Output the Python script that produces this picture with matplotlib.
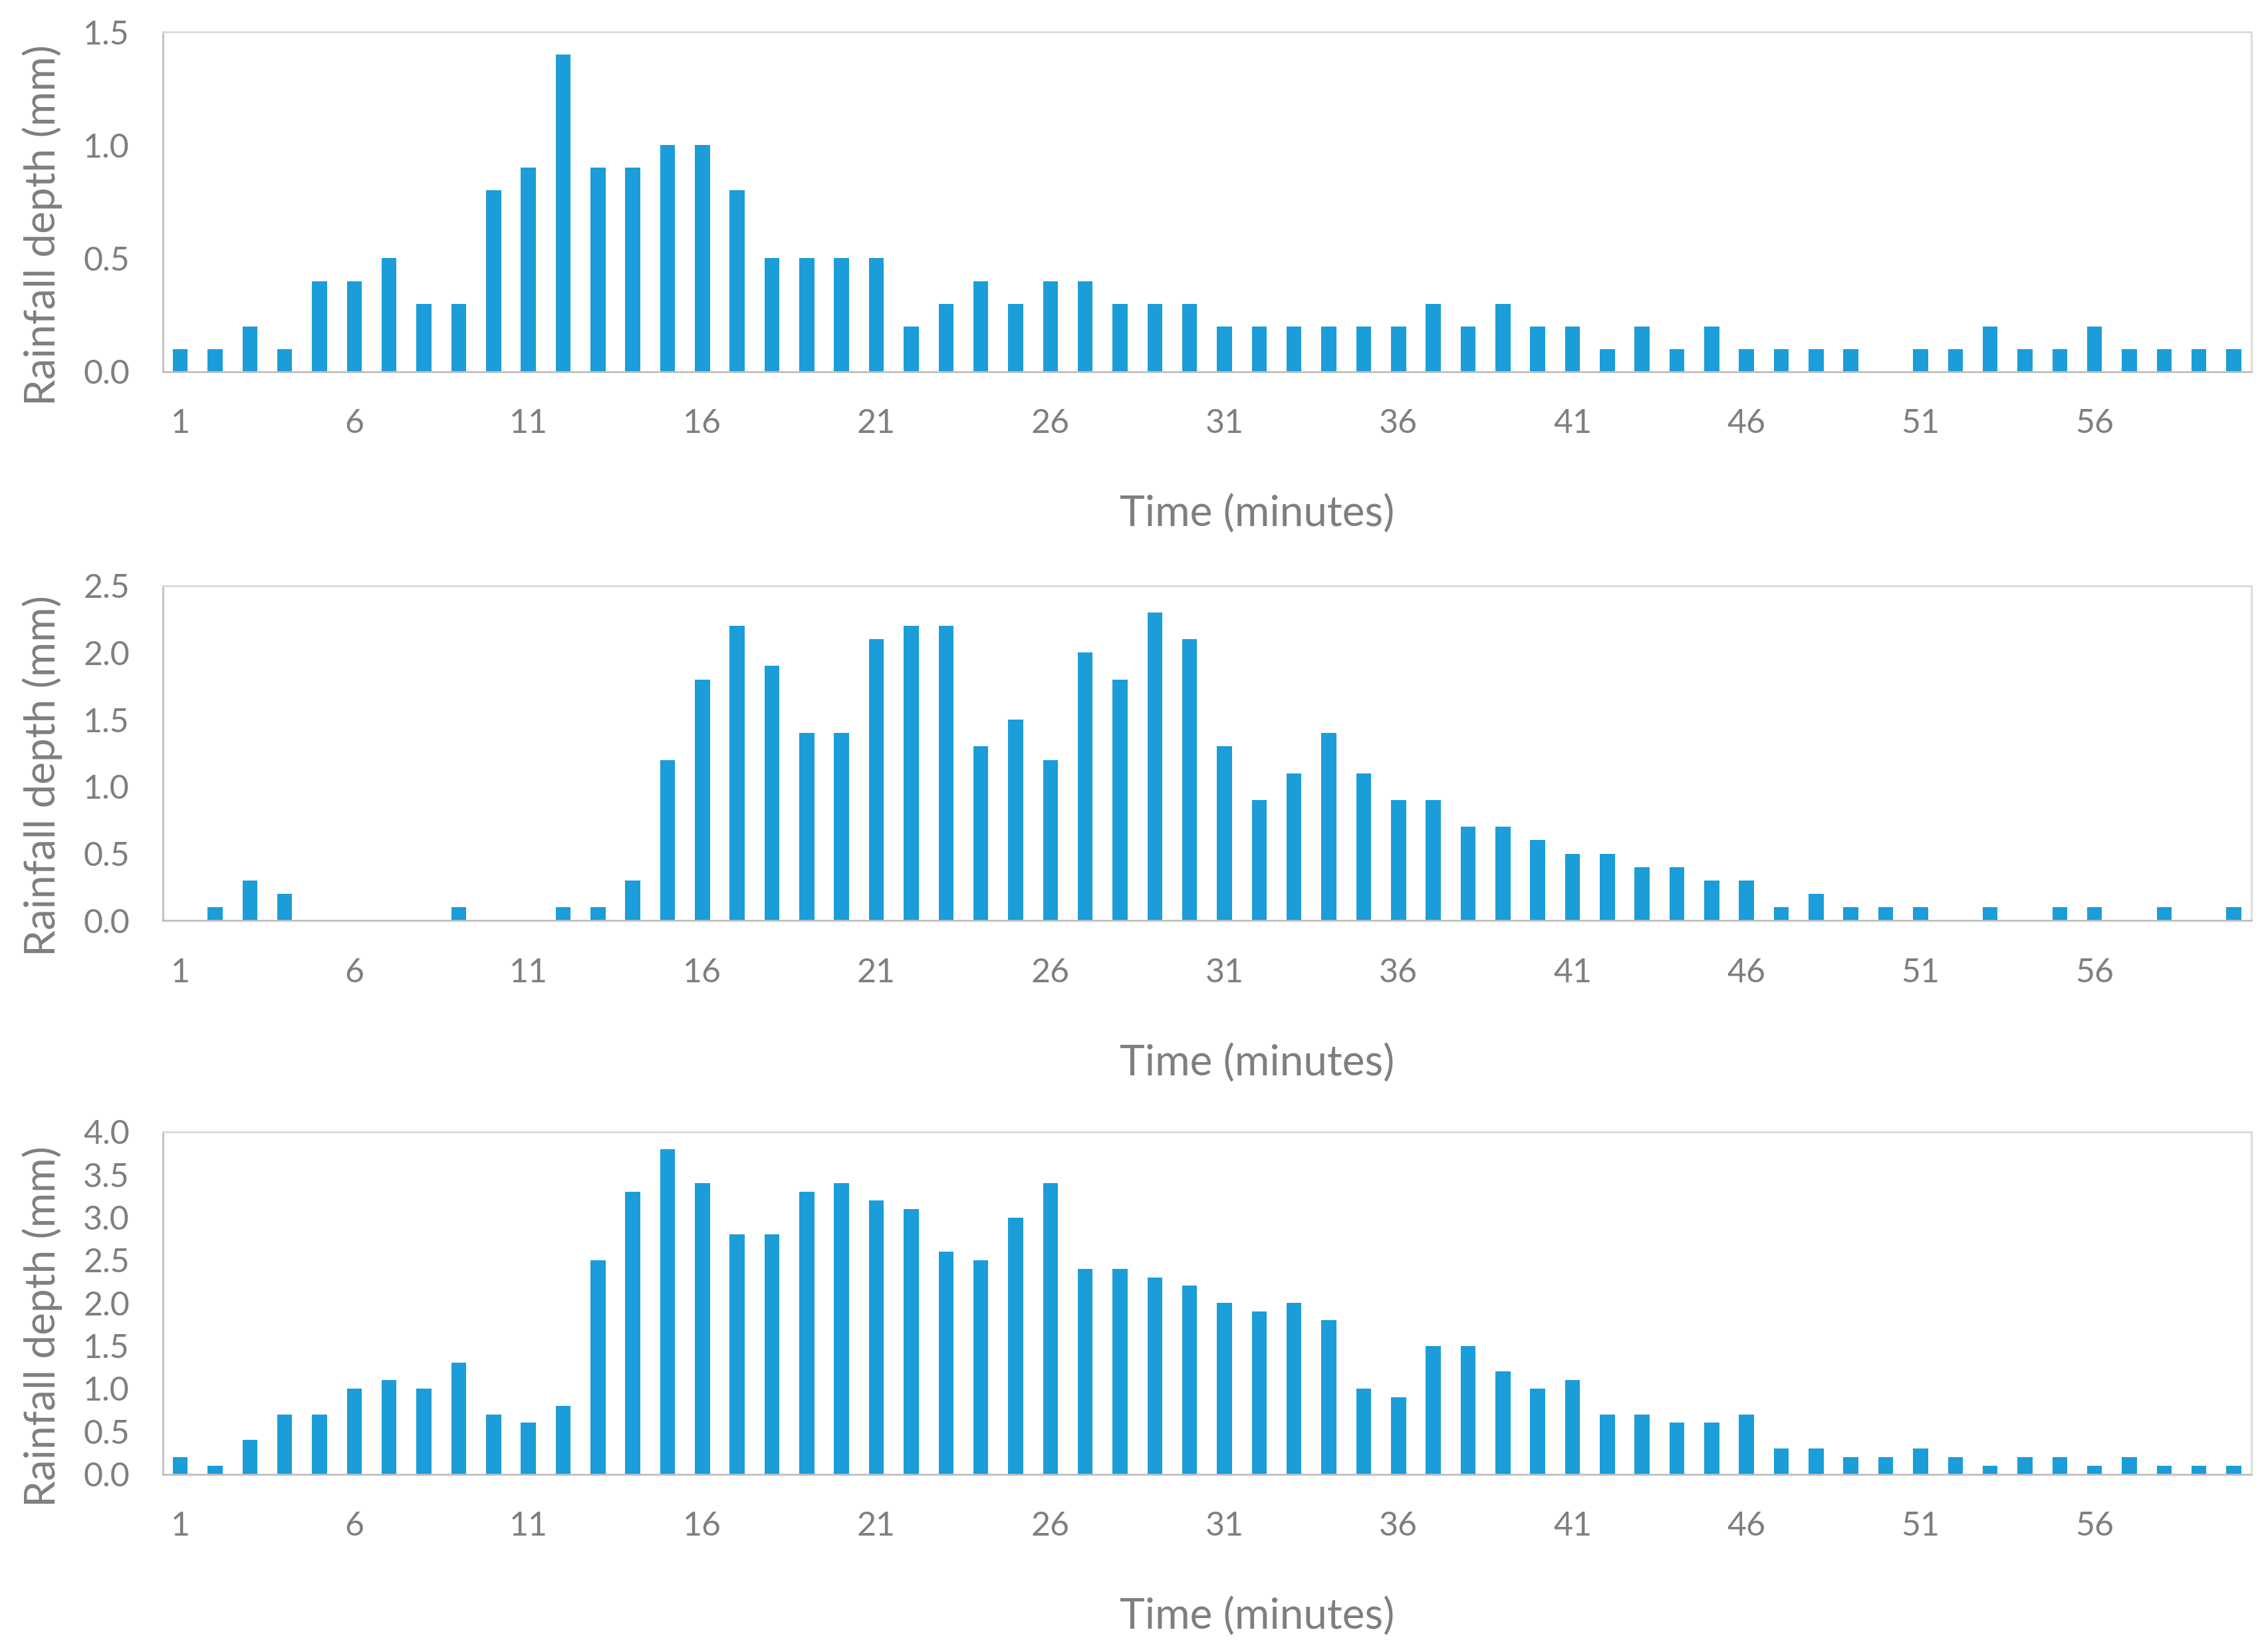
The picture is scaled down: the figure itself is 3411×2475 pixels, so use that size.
import numpy as np
import matplotlib.pyplot as plt
from matplotlib.ticker import FormatStrFormatter

plt.rcParams['font.family'] = ['Lato', 'DejaVu Sans']

# minutes 1..60
minutes = np.arange(1, 61)

# rainfall depth per minute (mm), one list per event
event1 = [0.1, 0.1, 0.2, 0.1, 0.4, 0.4, 0.5, 0.3, 0.3, 0.8,
          0.9, 1.4, 0.9, 0.9, 1.0, 1.0, 0.8, 0.5, 0.5, 0.5,
          0.5, 0.2, 0.3, 0.4, 0.3, 0.4, 0.4, 0.3, 0.3, 0.3,
          0.2, 0.2, 0.2, 0.2, 0.2, 0.2, 0.3, 0.2, 0.3, 0.2,
          0.2, 0.1, 0.2, 0.1, 0.2, 0.1, 0.1, 0.1, 0.1, 0.0,
          0.1, 0.1, 0.2, 0.1, 0.1, 0.2, 0.1, 0.1, 0.1, 0.1]

event2 = [0.0, 0.1, 0.3, 0.2, 0.0, 0.0, 0.0, 0.0, 0.1, 0.0,
          0.0, 0.1, 0.1, 0.3, 1.2, 1.8, 2.2, 1.9, 1.4, 1.4,
          2.1, 2.2, 2.2, 1.3, 1.5, 1.2, 2.0, 1.8, 2.3, 2.1,
          1.3, 0.9, 1.1, 1.4, 1.1, 0.9, 0.9, 0.7, 0.7, 0.6,
          0.5, 0.5, 0.4, 0.4, 0.3, 0.3, 0.1, 0.2, 0.1, 0.1,
          0.1, 0.0, 0.1, 0.0, 0.1, 0.1, 0.0, 0.1, 0.0, 0.1]

event3 = [0.2, 0.1, 0.4, 0.7, 0.7, 1.0, 1.1, 1.0, 1.3, 0.7,
          0.6, 0.8, 2.5, 3.3, 3.8, 3.4, 2.8, 2.8, 3.3, 3.4,
          3.2, 3.1, 2.6, 2.5, 3.0, 3.4, 2.4, 2.4, 2.3, 2.2,
          2.0, 1.9, 2.0, 1.8, 1.0, 0.9, 1.5, 1.5, 1.2, 1.0,
          1.1, 0.7, 0.7, 0.6, 0.6, 0.7, 0.3, 0.3, 0.2, 0.2,
          0.3, 0.2, 0.1, 0.2, 0.2, 0.1, 0.2, 0.1, 0.1, 0.1]

events = [event1, event2, event3]
y_max = [1.5, 2.5, 4.0]
xtick_labels = np.arange(1, 61, 5)

bar_color = "#1b9dd9"
text_color = "#7f7f7f"

fig = plt.figure(figsize=(17.06, 12.375), dpi=200)

# axes boxes [left, bottom, width, height] in figure fractions
boxes = [[0.0718, 0.7743, 0.9205, 0.2062],
         [0.0718, 0.4407, 0.9205, 0.2035],
         [0.0718, 0.1044, 0.9205, 0.2080]]

for values, ymax, box in zip(events, y_max, boxes):
    ax = fig.add_axes(box)
    ax.bar(minutes, values, width=0.43, color=bar_color, zorder=2)

    ax.set_xlim(0.5, 60.5)
    ax.set_ylim(0, ymax)
    ax.set_yticks(np.arange(0, ymax + 0.01, 0.5))
    ax.yaxis.set_major_formatter(FormatStrFormatter('%.1f'))
    ax.set_xticks(xtick_labels)

    ax.tick_params(axis='both', length=0, colors=text_color, labelsize=18)
    ax.tick_params(axis='x', pad=20)
    ax.tick_params(axis='y', pad=18)

    for side in ['top', 'right']:
        ax.spines[side].set_color('#d9d9d9')
        ax.spines[side].set_linewidth(1.0)
    for side in ['left', 'bottom']:
        ax.spines[side].set_color('#bfbfbf')
        ax.spines[side].set_linewidth(1.0)

    # axis titles sit a little off-centre, as in the original
    ax.set_xlabel("Time (minutes)", fontsize=23, color=text_color, labelpad=30)
    ax.xaxis.label.set_x(0.524)
    ax.set_ylabel("Rainfall depth (mm)", fontsize=23, color=text_color)
    ax.yaxis.set_label_coords(-0.048, 0.432)

fig.savefig("out.png", dpi=200, facecolor="white")
